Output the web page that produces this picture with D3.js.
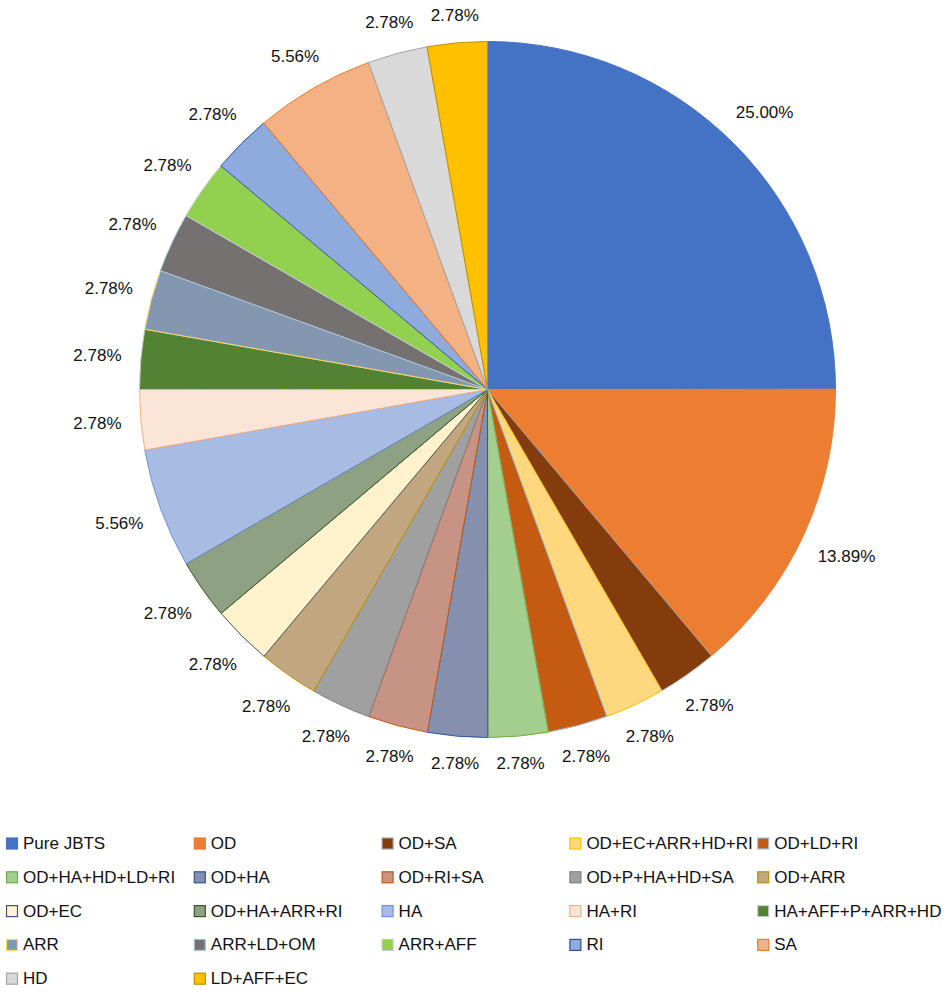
<!DOCTYPE html>
<html>
<head>
<meta charset="utf-8">
<script src="https://cdn.jsdelivr.net/npm/d3@7"></script>
<style>
  html, body { margin: 0; padding: 0; background: #fff; }
  svg { display: block; font-family: "Helvetica Neue", Helvetica, Arial, "Liberation Sans", sans-serif; }
</style>
</head>
<body>
<div id="main"></div>
<script>
// categories in drawing order (clockwise from 12 o'clock)
const categories = [
    'Pure JBTS', 'OD', 'OD+SA', 'OD+EC+ARR+HD+RI', 'OD+LD+RI',
    'OD+HA+HD+LD+RI', 'OD+HA', 'OD+RI+SA', 'OD+P+HA+HD+SA', 'OD+ARR',
    'OD+EC', 'OD+HA+ARR+RI', 'HA', 'HA+RI', 'HA+AFF+P+ARR+HD',
    'ARR', 'ARR+LD+OM', 'ARR+AFF', 'RI', 'SA',
    'HD', 'LD+AFF+EC'
];
const percents = [
    25.00, 13.89, 2.78, 2.78, 2.78,
    2.78, 2.78, 2.78, 2.78, 2.78,
    2.78, 2.78, 5.56, 2.78, 2.78,
    2.78, 2.78, 2.78, 2.78, 5.56,
    2.78, 2.78
];
const fills = [
    '#4472C4', '#ED7D31', '#843C0C', '#FFD77F', '#C55A11',
    '#A4CE8E', '#8490AE', '#C79385', '#A0A0A0', '#C2A680',
    '#FFF2CC', '#8EA283', '#A8BBE3', '#FBE5D6', '#548235',
    '#8497B0', '#767171', '#92D050', '#8FAADC', '#F4B183',
    '#D9D9D9', '#FFC000'
];
const strokes = [
    '#4472C4', '#ED7D31', '#A5A5A5', '#FFC000', '#9DC3E6',
    '#70AD47', '#2F5597', '#C55A11', '#7F7F7F', '#BF9000',
    '#44546A', '#385723', '#6E93D6', '#F4B183', '#C9C9C9',
    '#FFD966', '#9DC3E6', '#C9C9C9', '#2F5597', '#ED7D31',
    '#A5A5A5', '#BF9000'
];

const WIDTH = 945;
const HEIGHT = 993;
const CX = 487.5;
const CY = 389.5;
const RADIUS = 348;
const LABELRADIUS = 367;
const FONTSIZE = 17;

const dataSet = categories.map((c, i) => ({name: c, value: percents[i], fill: fills[i], stroke: strokes[i]}));

const svg = d3.select('#main').append('svg').attr('width', WIDTH).attr('height', HEIGHT);

const pie = d3.pie().value((d) => d.value).sort(null);
const arc = d3.arc().innerRadius(0).outerRadius(RADIUS);
const arcs = pie(dataSet);

const plot = svg.append('g').attr('transform', `translate(${CX}, ${CY})`);
plot.selectAll('path.slice').data(arcs).enter().append('path')
    .attr('class', 'slice')
    .attr('d', arc)
    .attr('fill', (d) => d.data.fill)
    .attr('stroke', (d) => d.data.stroke)
    .attr('stroke-width', 1);

// labels: outside end, nearest box edge sits on LABELRADIUS
const labels = plot.selectAll('text.label').data(arcs).enter().append('text')
    .attr('class', 'label')
    .attr('font-size', FONTSIZE)
    .attr('fill', '#111')
    .attr('text-anchor', 'middle')
    .attr('dominant-baseline', 'central')
    .text((d) => `${d3.format('.2f')(d.data.value)}%`);
labels.each(function (d) {
    const mid = (d.startAngle + d.endAngle) / 2;
    const sx = Math.sin(mid);
    const sy = -Math.cos(mid);
    const w = this.getComputedTextLength();
    const h = FONTSIZE * 0.78;
    const push = Math.abs(sx) * w / 2 + Math.abs(sy) * h / 2;
    const r = LABELRADIUS + push;
    d3.select(this).attr('x', sx * r).attr('y', sy * r);
});

// legend, 5 columns, row-major
const LEGENDX = 6;
const LEGENDY = 843.5;
const COLW = 187.8;
const ROWH = 33.8;
const BOX = 11;
const legend = svg.append('g').attr('id', 'legend');
const items = legend.selectAll('g').data(dataSet).enter().append('g')
    .attr('transform', (d, i) => `translate(${LEGENDX + (i % 5) * COLW}, ${LEGENDY + Math.floor(i / 5) * ROWH})`);
items.append('rect')
    .attr('x', 0.5)
    .attr('y', -BOX / 2)
    .attr('width', BOX)
    .attr('height', BOX)
    .attr('fill', (d) => d.fill)
    .attr('stroke', (d) => d.stroke)
    .attr('stroke-width', 1.2);
items.append('text')
    .attr('x', 17)
    .attr('y', 0)
    .attr('dominant-baseline', 'central')
    .attr('font-size', FONTSIZE)
    .attr('fill', '#111')
    .text((d) => d.name);
</script>
</body>
</html>
